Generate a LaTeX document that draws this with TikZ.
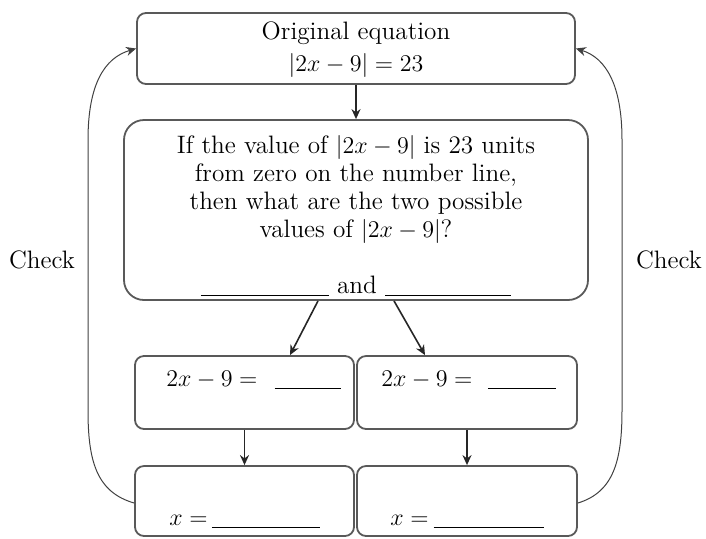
\documentclass[tikz,border=0pt]{standalone}
\usetikzlibrary{arrows.meta}
\begin{document}
\begin{tikzpicture}[x=0.5pt,y=-0.5pt,
  box/.style={draw=black!65,line width=0.9pt,rounded corners=4.5pt,inner sep=0pt},
  arr/.style={-{Stealth[length=5pt,width=4.5pt]},line width=0.8pt,black!85},
  chk/.style={-{Stealth[length=5pt,width=4.5pt]},line width=0.5pt,black!75},
  txt/.style={font=\fontsize{12.6}{14}\selectfont,inner sep=0pt}]
\useasboundingbox (0,0) rectangle (706,538);
\newcommand{\blank}[1]{\rule[-1.5pt]{#1pt}{0.5pt}}
% boxes
\node[box,minimum width=219pt,minimum height=35.5pt] (top) at (356,48.5) {};
\node[box,rounded corners=10pt,minimum width=232pt,minimum height=90pt] (mid) at (356,210) {};
\node[box,minimum width=109.5pt,minimum height=36.5pt] (e1) at (244.5,392.5) {};
\node[box,minimum width=110pt,minimum height=36.5pt] (e2) at (467,392.5) {};
\node[box,minimum width=109.5pt,minimum height=35pt] (x1) at (244.5,501) {};
\node[box,minimum width=110pt,minimum height=35pt] (x2) at (467,501) {};
% texts
\node[txt,align=center] (toptxt) at (356,50) {Original equation\\[2pt] $|2x-9|=23$};
\node[txt,align=center] (midtxt) at (356,189) {If the value of $|2x-9|$ is 23 units\\ from zero on the number line,\\ then what are the two possible\\ values of $|2x-9|$?};
\node[txt] (blanks) at (356,286) {\blank{64} and \blank{63}};
\node[txt,anchor=base west] (e1txt) at (166,386) {$2x-9=$\hspace{4.5pt} \blank{33}};
\node[txt,anchor=base west] (e2txt) at (381,386) {$2x-9=$\hspace{3.5pt} \blank{34}};
\node[txt,anchor=base west] (x1txt) at (169,525) {$x=$\,\blank{54}};
\node[txt,anchor=base west] (x2txt) at (390,525) {$x=$\hspace{2.5pt}\blank{55}};
\node[txt] (lchk) at (42,260) {Check};
\node[txt] (rchk) at (669,260) {Check};
% connectors
\draw[arr] (top) -- (mid);
\draw[arr] ([xshift=-19pt]mid.south) -- ([xshift=22.75pt]e1.north);
\draw[arr] ([xshift=19pt]mid.south) -- ([xshift=-21pt]e2.north);
\draw[arr] (e1) -- (x1);
\draw[arr] (e2) -- (x2);
\draw[chk] ([yshift=-1pt]x1.west) .. controls (96,492) and (88,460) .. (88,410) -- (88,140)
  .. controls (88,85) and (104,58) .. (top.west);
\draw[chk] ([yshift=-1pt]x2.east) .. controls (614,492) and (622,460) .. (622,410) -- (622,140)
  .. controls (622,85) and (606,58) .. (top.east);
\end{tikzpicture}
\end{document}
